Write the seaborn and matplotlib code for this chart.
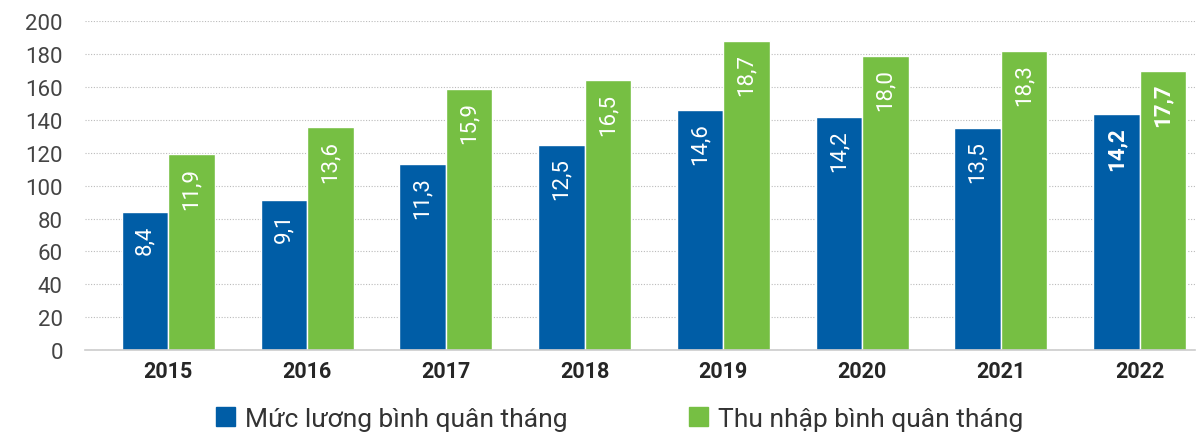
import numpy as np
import pandas as pd
import matplotlib
matplotlib.use("Agg")
import matplotlib.pyplot as plt
import seaborn as sns

# số liệu
years = ["2015", "2016", "2017", "2018", "2019", "2020", "2021", "2022"]
# nhãn (triệu đồng)
luong = [8.4, 9.1, 11.3, 12.5, 14.6, 14.2, 13.5, 14.2]
thu_nhap = [11.9, 13.6, 15.9, 16.5, 18.7, 18.0, 18.3, 17.7]
# chiều cao cột trên thang 0-200
luong_h = [84, 91, 113, 125, 146, 142, 135, 143.5]
thu_nhap_h = [119, 135.5, 159, 164, 188, 179, 182, 170]
series = ["Mức lương bình quân tháng", "Thu nhập bình quân tháng"]
colors = ["#005DA6", "#76BF43"]

sns.set_style("white")
plt.rcParams["font.family"] = ["Roboto", "DejaVu Sans"]

df = pd.DataFrame({
    "year": years * 2,
    "height": luong_h + thu_nhap_h,
    "series": [series[0]] * len(years) + [series[1]] * len(years),
})

fig = plt.figure(figsize=(12.04, 4.35), dpi=100)
ax = fig.add_axes([0.0706, 0.193, 0.922, 0.756])

sns.barplot(data=df, x="year", y="height", hue="series", palette=colors,
            width=0.67, saturation=1, ax=ax, legend=False, zorder=3)

ax.set_ylim(0, 200)
ax.set_xlim(-0.6, 7.4)
ax.set_yticks(range(0, 201, 20))
ax.yaxis.grid(True, linestyle=(0, (1, 1.5)), color="#bbbbbb", linewidth=0.8, zorder=0)
ax.xaxis.grid(False)
for s in ["top", "right", "left"]:
    ax.spines[s].set_visible(False)
ax.spines["bottom"].set_color("#cccccc")
ax.spines["bottom"].set_linewidth(1.2)
ax.spines["bottom"].set_zorder(4)
ax.tick_params(axis="y", length=0, labelsize=16, labelcolor="#444444", pad=16)
ax.tick_params(axis="x", length=0, labelsize=15.5, pad=7)
for t in ax.get_xticklabels():
    t.set_fontweight("bold")
ax.set_xlabel("")
ax.set_ylabel("")

# nhãn giá trị trong cột
for i, cont in enumerate(ax.containers):
    vals = luong if i == 0 else thu_nhap
    for j, (bar, v) in enumerate(zip(cont, vals)):
        x = bar.get_x() + bar.get_width() / 2
        y = bar.get_height() - 7.5
        ax.text(x, y, f"{v:.1f}".replace(".", ","), rotation=90, ha="center", va="top",
                color="white", fontsize=16,
                fontweight="bold" if j == len(vals) - 1 else "normal", zorder=5)

handles = [plt.Rectangle((0, 0), 1, 1, color=c) for c in colors]
fig.legend(handles, series, loc="center", bbox_to_anchor=(0.515, 0.035), ncol=2,
           frameon=False, fontsize=19, handlelength=0.7, handleheight=0.7,
           columnspacing=4.6, handletextpad=0.4, labelcolor="#333333")

fig.savefig("out.png", dpi=100)
